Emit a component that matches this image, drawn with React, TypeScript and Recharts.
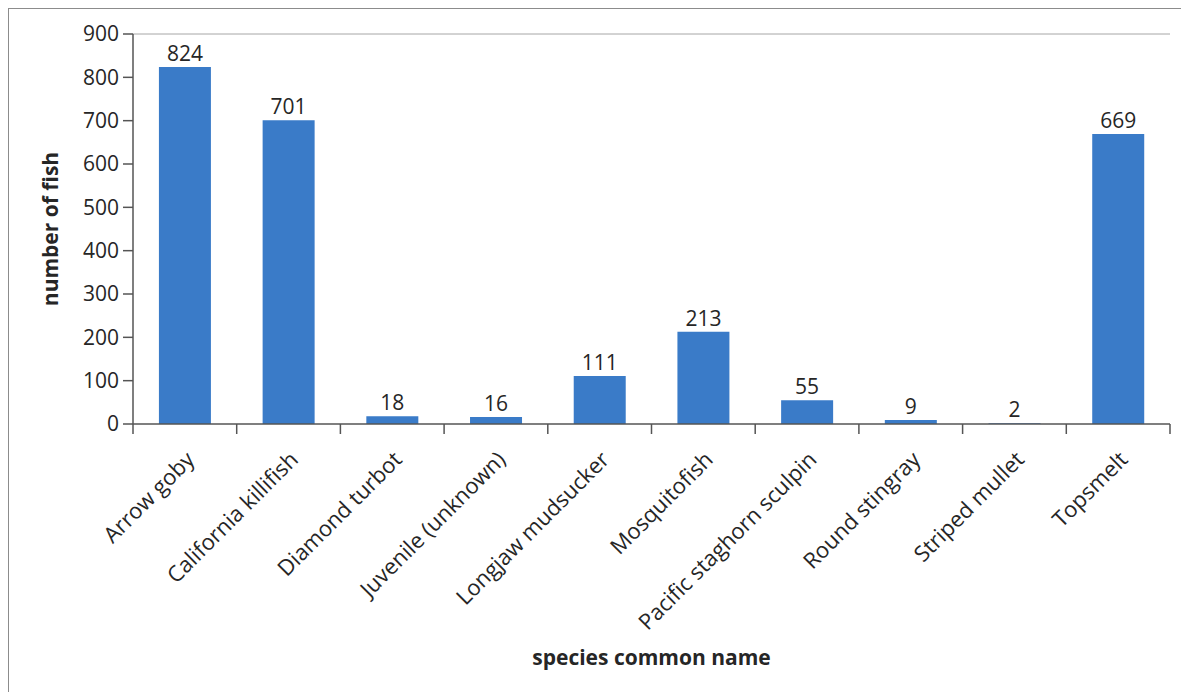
import React from 'react';
import {
  BarChart,
  Bar,
  XAxis,
  YAxis,
  LabelList,
  ReferenceLine,
  Label
} from 'recharts';

const species = [
  'Arrow goby',
  'California killifish',
  'Diamond turbot',
  'Juvenile (unknown)',
  'Longjaw mudsucker',
  'Mosquitofish',
  'Pacific staghorn sculpin',
  'Round stingray',
  'Striped mullet',
  'Topsmelt',
];
const fishCounts = [824, 701, 18, 16, 111, 213, 55, 9, 2, 669];
const yTicks = [0, 100, 200, 300, 400, 500, 600, 700, 800, 900];

const data = species.map((name, i) => ({ name, count: fishCounts[i] }));

const FONT = '"Open Sans", "DejaVu Sans", sans-serif';
const TEXT = '#262626';

// category tick: rotated label plus tick marks at the band edges
const SpeciesTick = (props: any) => {
  const { x, y, payload, index, width, visibleTicksCount } = props;
  const n = visibleTicksCount || species.length;
  const band = (width || 1037) / n;
  const left = x - band / 2;
  const ax = x + 11;
  const ay = y + 37;
  return (
    <g>
      <line x1={left} y1={y} x2={left} y2={y + 10} stroke="#555" strokeWidth={1.5} />
      {index === n - 1 && (
        <line x1={x + band / 2} y1={y} x2={x + band / 2} y2={y + 10} stroke="#555" strokeWidth={1.5} />
      )}
      <text
        x={ax}
        y={ay}
        textAnchor="end"
        transform={`rotate(-45, ${ax}, ${ay})`}
        fill={TEXT}
        fontSize={22}
        fontFamily={FONT}
      >
        {payload.value}
      </text>
    </g>
  );
};

const YTitle = (props: any) => {
  const vb = props.viewBox || {};
  const cy = (vb.y || 0) + (vb.height || 0) / 2;
  return (
    <text
      x={41}
      y={cy}
      textAnchor="middle"
      dominantBaseline="central"
      transform={`rotate(-90, 41, ${cy})`}
      fill={TEXT}
      fontSize={21}
      fontWeight="bold"
      fontFamily={FONT}
    >
      number of fish
    </text>
  );
};

const XTitle = (props: any) => {
  const vb = props.viewBox || {};
  const cx = (vb.x || 0) + (vb.width || 0) / 2;
  return (
    <text
      x={cx}
      y={656}
      textAnchor="middle"
      fill={TEXT}
      fontSize={21}
      fontWeight="bold"
      fontFamily={FONT}
    >
      species common name
    </text>
  );
};

export default function App() {
  return (
    <div
      style={{
        width: 1180,
        height: 683,
        borderTop: '1px solid #8c8c8c',
        borderLeft: '1px solid #8c8c8c',
        background: '#fff',
      }}
    >
      <BarChart
        width={1180}
        height={683}
        data={data}
        margin={{ top: 25, right: 19, bottom: 0, left: 0 }}
        barCategoryGap="25%"
      >
        <XAxis
          dataKey="name"
          height={268}
          interval={0}
          tickSize={0}
          tickMargin={0}
          tickLine={false}
          axisLine={{ stroke: '#555', strokeWidth: 1.5 }}
          tick={<SpeciesTick />}
        >
          <Label content={<XTitle />} />
        </XAxis>
        <YAxis
          yAxisId="left"
          width={124}
          domain={[0, 900]}
          ticks={yTicks}
          interval={0}
          tickSize={10}
          tickMargin={4}
          axisLine={{ stroke: '#555', strokeWidth: 1.5 }}
          tickLine={{ stroke: '#555', strokeWidth: 1.5 }}
          tick={{ fill: TEXT, fontSize: 21, fontFamily: FONT }}
        >
          <Label content={<YTitle />} />
        </YAxis>
        <YAxis
          yAxisId="right"
          orientation="right"
          width={0}
          domain={[0, 900]}
          tick={false}
          tickLine={false}
          axisLine={{ stroke: '#a6a6a6', strokeWidth: 1 }}
        />
        <ReferenceLine yAxisId="left" y={900} stroke="#a6a6a6" strokeWidth={1} />
        <Bar yAxisId="left" dataKey="count" fill="#3a7bc8" isAnimationActive={false}>
          <LabelList
            dataKey="count"
            position="top"
            offset={6}
            fill={TEXT}
            fontSize={21}
            fontFamily={FONT}
          />
        </Bar>
      </BarChart>
    </div>
  );
}
